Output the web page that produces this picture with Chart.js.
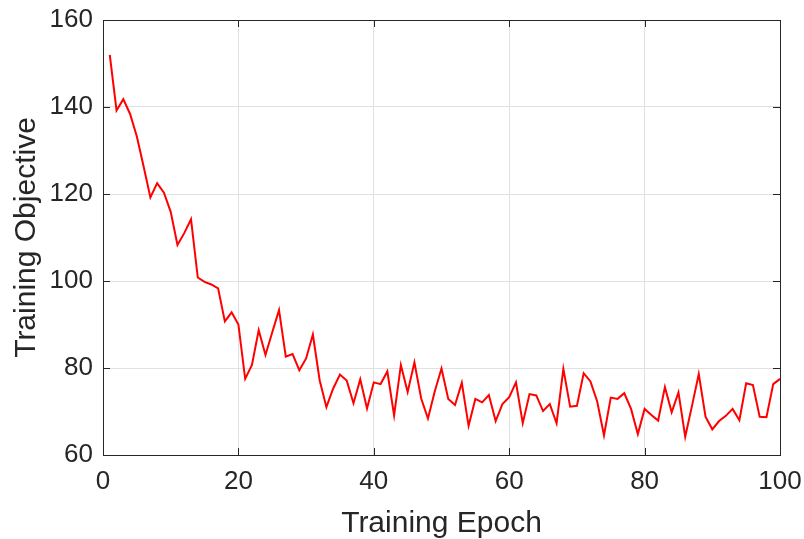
<!DOCTYPE html>
<html lang="en">
<head>
  <meta charset="UTF-8">
  <title>Training Objective</title>
  <script src="https://cdn.jsdelivr.net/npm/chart.js"></script>
  <style>
    body { margin: 0; background: #fff; }
  </style>
</head>
<body>
  <canvas id="chart" width="804" height="539"></canvas>

  <script>
    // values, epoch 1..100
    const objective = [
      152.0, 139.2, 141.8, 138.4, 133.2, 126.3, 119.2, 122.5, 120.3, 115.9,
      108.3, 111.0, 114.2, 100.8, 99.8, 99.2, 98.3, 90.7, 92.8, 90.0,
      77.5, 80.7, 88.7, 83.0, 88.2, 93.3, 82.6, 83.2, 79.5, 82.2,
      87.7, 77.2, 71.0, 75.3, 78.5, 77.1, 71.9, 77.4, 70.7, 76.7,
      76.3, 79.2, 69.1, 80.7, 74.5, 81.3, 73.0, 68.4, 74.6, 79.9,
      72.9, 71.5, 76.6, 66.7, 72.9, 72.1, 73.8, 67.8, 71.7, 73.3,
      76.7, 67.3, 74.0, 73.7, 70.1, 71.7, 67.3, 79.8, 71.1, 71.3,
      78.8, 76.9, 72.3, 64.5, 73.2, 72.9, 74.2, 70.6, 64.8, 70.6,
      69.2, 67.9, 75.6, 69.8, 74.4, 64.2, 71.3, 78.6, 68.8, 65.9,
      67.8, 69.0, 70.6, 68.0, 76.5, 76.1, 68.8, 68.7, 76.3, 77.5
    ];
    const epochs = objective.map((v, i) => i + 1);
    const xTicks = [0, 20, 40, 60, 80, 100];
    const yTicks = [60, 80, 100, 120, 140, 160];

    const axisColor = '#262626';
    const gridColor = '#e1e1e1';
    const fontFamily = '"Liberation Sans", Arial, Helvetica, sans-serif';

    // matlab style box with inward ticks on all four sides
    const boxPlugin = {
      id: 'box',
      afterDraw(chart) {
        const { ctx, chartArea: a, scales } = chart;
        const len = 7;
        ctx.save();
        ctx.strokeStyle = axisColor;
        ctx.lineWidth = 1;
        ctx.beginPath();
        xTicks.forEach(t => {
          const x = Math.round(scales.x.getPixelForValue(t)) + 0.5;
          ctx.moveTo(x, a.bottom); ctx.lineTo(x, a.bottom - len);
          ctx.moveTo(x, a.top); ctx.lineTo(x, a.top + len);
        });
        yTicks.forEach(t => {
          const y = Math.round(scales.y.getPixelForValue(t)) + 0.5;
          ctx.moveTo(a.left, y); ctx.lineTo(a.left + len, y);
          ctx.moveTo(a.right, y); ctx.lineTo(a.right - len, y);
        });
        ctx.stroke();
        ctx.strokeRect(Math.round(a.left) + 0.5, Math.round(a.top) + 0.5,
          Math.round(a.right - a.left), Math.round(a.bottom - a.top));
        ctx.restore();
      }
    };

    new Chart(document.getElementById('chart').getContext('2d'), {
      type: 'line',
      data: {
        datasets: [{
          label: 'Training Objective',
          data: epochs.map((e, i) => ({ x: e, y: objective[i] })),
          borderColor: '#ff0000',
          borderWidth: 2,
          pointRadius: 0,
          tension: 0,
          fill: false
        }]
      },
      options: {
        responsive: false,
        animation: false,
        devicePixelRatio: 1,
        layout: { padding: { top: 20, right: 24, left: 0, bottom: 0 } },
        plugins: {
          legend: { display: false },
          tooltip: { enabled: false }
        },
        scales: {
          x: {
            type: 'linear',
            min: 0,
            max: 100,
            afterBuildTicks: s => { s.ticks = xTicks.map(v => ({ value: v })); },
            afterFit: s => {
              s.height = 84;
              s.paddingLeft = 0;
              s.paddingRight = 0;
            },
            grid: { color: gridColor, drawTicks: false },
            border: { display: false },
            ticks: {
              padding: 11,
              color: axisColor,
              maxRotation: 0,
              font: { family: fontFamily, size: 26 }
            },
            title: {
              display: true,
              text: 'Training Epoch',
              color: axisColor,
              font: { family: fontFamily, size: 30, lineHeight: 1 },
              padding: { top: 0, bottom: 0 }
            }
          },
          y: {
            min: 60,
            max: 160,
            afterBuildTicks: s => { s.ticks = yTicks.map(v => ({ value: v })); },
            afterFit: s => {
              s.width = 103;
              s.paddingTop = 0;
              s.paddingBottom = 0;
            },
            grid: { color: gridColor, drawTicks: false },
            border: { display: false },
            ticks: {
              padding: 10,
              color: axisColor,
              font: { family: fontFamily, size: 26 }
            },
            title: {
              display: true,
              text: 'Training Objective',
              color: axisColor,
              font: { family: fontFamily, size: 30, lineHeight: 1 },
              padding: { top: 12, bottom: 0 }
            }
          }
        }
      },
      plugins: [boxPlugin]
    });
  </script>
</body>
</html>
